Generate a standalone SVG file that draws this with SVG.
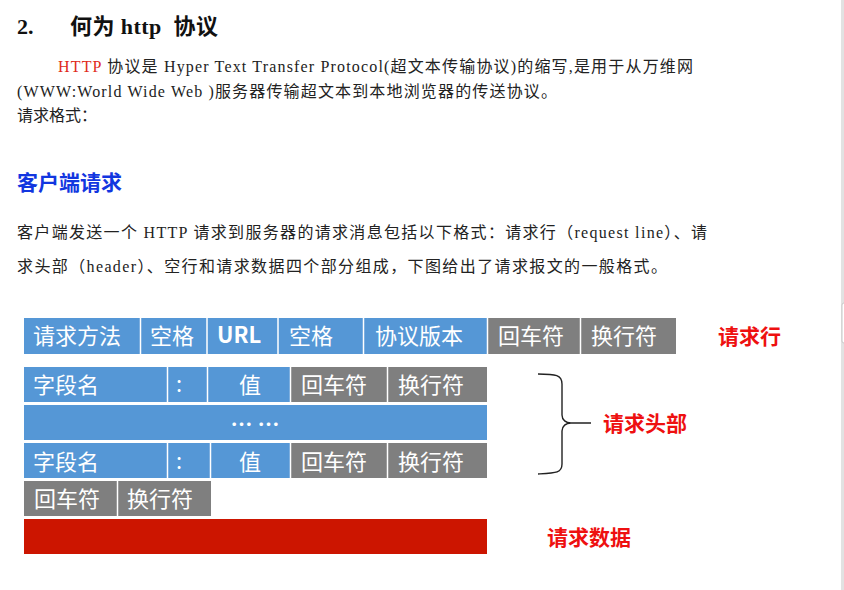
<svg xmlns="http://www.w3.org/2000/svg" width="844" height="590" viewBox="0 0 844 590">
<style>
.bg{fill:#ffffff}
.para{font-family:"Liberation Serif","Noto Sans CJK SC",serif;font-size:16px;fill:#222222}
.title{font-family:"Liberation Serif","Noto Sans CJK SC",serif;font-size:22px;font-weight:bold;fill:#111111;white-space:pre}
.head{font-family:"Liberation Serif","Noto Sans CJK SC",serif;font-size:21px;font-weight:bold;fill:#1236e0}
.blue{fill:#5597d6}
.gray{fill:#7f7f7f}
.red{fill:#cc1500}
.cell{font-family:"Noto Sans CJK SC","Noto Sans",sans-serif;font-size:22px;fill:#ffffff}
.lbl{font-family:"Noto Sans CJK SC",sans-serif;font-size:21px;font-weight:bold;fill:#ee1010}
.sep{stroke:#ffffff;stroke-width:1.5}
</style>
<rect class="bg" x="0" y="0" width="844" height="590"/>
<rect x="841" y="0" width="3" height="590" fill="#e2e2e2"/>
<rect x="842" y="303" width="4" height="40" rx="2" fill="#ffffff" stroke="#c8c8c8" stroke-width="1"/>

<g id="text">
<text class="title" x="17" y="34">2.</text>
<text class="title" x="70" y="34" textLength="148" lengthAdjust="spacing">何为 http  协议</text>
<text class="para" x="58" y="72" textLength="635" lengthAdjust="spacing"><tspan fill="#e02a1a">HTTP</tspan> 协议是 Hyper  Text  Transfer  Protocol(超文本传输协议)的缩写,是用于从万维网</text>
<text class="para" x="17" y="97" textLength="540" lengthAdjust="spacing">(WWW:World  Wide  Web  )服务器传输超文本到本地浏览器的传送协议。</text>
<text class="para" x="17" y="121">请求格式：</text>
<text class="head" x="17" y="190">客户端请求</text>
<text class="para" x="17" y="238" textLength="690" lengthAdjust="spacing">客户端发送一个 HTTP 请求到服务器的请求消息包括以下格式：请求行（request  line）、请</text>
<text class="para" x="17" y="272" textLength="650" lengthAdjust="spacing">求头部（header）、空行和请求数据四个部分组成，下图给出了请求报文的一般格式。</text>
</g>

<g id="request-line">
<rect class="blue" x="24" y="318" width="464" height="36"/>
<rect class="gray" x="488" y="318" width="188" height="36"/>
<line class="sep" x1="140.5" y1="318" x2="140.5" y2="354"/>
<line class="sep" x1="207" y1="318" x2="207" y2="354"/>
<line class="sep" x1="278" y1="318" x2="278" y2="354"/>
<line class="sep" x1="363.5" y1="318" x2="363.5" y2="354"/>
<line class="sep" x1="487.5" y1="318" x2="487.5" y2="354"/>
<line class="sep" x1="580.5" y1="318" x2="580.5" y2="354"/>
<text class="cell" x="33" y="344">请求方法</text>
<text class="cell" x="150" y="344">空格</text>
<text class="cell" x="217" y="343" font-weight="bold" font-size="19">URL</text>
<text class="cell" x="289" y="344">空格</text>
<text class="cell" x="375" y="344">协议版本</text>
<text class="cell" x="498" y="344">回车符</text>
<text class="cell" x="591" y="344">换行符</text>
</g>

<g id="header-field-1">
<rect class="blue" x="24" y="367" width="267" height="35"/>
<rect class="gray" x="291" y="367" width="196" height="35"/>
<line class="sep" x1="167.5" y1="367" x2="167.5" y2="402"/>
<line class="sep" x1="207.5" y1="367" x2="207.5" y2="402"/>
<line class="sep" x1="290.5" y1="367" x2="290.5" y2="402"/>
<line class="sep" x1="387.5" y1="367" x2="387.5" y2="402"/>
<text class="cell" x="33" y="393">字段名</text>
<text class="cell" x="176" y="392">:</text>
<text class="cell" x="239" y="393">值</text>
<text class="cell" x="301" y="393">回车符</text>
<text class="cell" x="398" y="393">换行符</text>
</g>

<g id="header-more">
<rect class="blue" x="24" y="405" width="463" height="35"/>
<text class="cell" x="255" y="432" text-anchor="middle" font-size="15" font-weight="bold">… …</text>
</g>

<g id="header-field-2">
<rect class="blue" x="24" y="443" width="267" height="35"/>
<rect class="gray" x="291" y="443" width="196" height="35"/>
<line class="sep" x1="167.5" y1="443" x2="167.5" y2="478"/>
<line class="sep" x1="210.5" y1="443" x2="210.5" y2="478"/>
<line class="sep" x1="290.5" y1="443" x2="290.5" y2="478"/>
<line class="sep" x1="387.5" y1="443" x2="387.5" y2="478"/>
<text class="cell" x="33" y="470">字段名</text>
<text class="cell" x="176" y="469">:</text>
<text class="cell" x="239" y="470">值</text>
<text class="cell" x="301" y="470">回车符</text>
<text class="cell" x="398" y="470">换行符</text>
</g>

<g id="blank-line">
<rect class="gray" x="24" y="481" width="187" height="35"/>
<line class="sep" x1="117.5" y1="481" x2="117.5" y2="516"/>
<text class="cell" x="34" y="507">回车符</text>
<text class="cell" x="127" y="507">换行符</text>
</g>

<g id="request-data">
<rect class="red" x="24" y="519" width="463" height="35"/>
</g>

<g id="connectors">
<path d="M538 374 C556 374 562 375 562 384 L562 415 C562 420 566 423 571 423 L591 423 M571 423 C566 423 562 426 562 431 L562 464 C562 473 556 473 538 474" fill="none" stroke="#222222" stroke-width="1.4"/>
</g>

<g id="label-request-line"><text class="lbl" x="718" y="344">请求行</text></g>
<g id="label-request-header"><text class="lbl" x="603" y="431">请求头部</text></g>
<g id="label-request-data"><text class="lbl" x="547" y="545">请求数据</text></g>
</svg>
